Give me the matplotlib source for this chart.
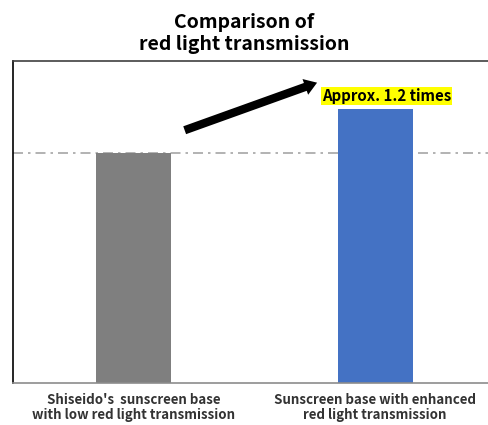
import numpy as np
import matplotlib
matplotlib.use("Agg")
import matplotlib.pyplot as plt

plt.rcParams['font.family'] = ['Noto Sans CJK JP', 'DejaVu Sans']

categories = ["Shiseido's  sunscreen base\nwith low red light transmission",
              "Sunscreen base with enhanced\nred light transmission"]
values = [1.0, 1.19]
colors = ["#7f7f7f", "#4472c4"]
note = "Approx. 1.2 times"

fig = plt.figure(figsize=(4.89, 4.25), dpi=100)
ax = fig.add_axes([0.0266, 0.0988, 0.9877, 0.7576])

x = np.arange(len(values))
ax.bar(x, values, width=0.31, color=colors, zorder=2)
ax.axhline(values[0], color="#a6a6a6", lw=1.2, ls=(0, (6, 3, 1.5, 3)), zorder=1)

ax.set_xlim(-0.5, 1.5)
ax.set_ylim(0, 1.40)
ax.set_yticks([])
ax.set_xticks(x)
ax.set_xticklabels(categories, fontsize=9.6, fontweight="bold", color="#333333",
                   linespacing=1.15)
ax.tick_params(axis="x", length=0, pad=7)

ax.spines["left"].set_color("black")
ax.spines["left"].set_linewidth(1.2)
ax.spines["top"].set_color("#404040")
ax.spines["top"].set_linewidth(1.2)
ax.spines["bottom"].set_color("#8c8c8c")
ax.spines["bottom"].set_linewidth(1.2)
ax.spines["right"].set_visible(False)

ax.annotate("", xy=(0.77, 1.31), xytext=(0.20, 1.095),
            arrowprops=dict(arrowstyle="simple,head_width=1.2,head_length=0.9,tail_width=0.6",
                            color="black", lw=0))
ax.text(1.048, 1.248, note, ha="center", va="center", fontsize=10.8, fontweight="bold",
        bbox=dict(facecolor="#ffff00", edgecolor="none", pad=0.5))

fig.text(0.5, 0.92, "Comparison of\nred light transmission", ha="center", va="center",
         fontsize=14, fontweight="bold", linespacing=1.2)

fig.savefig("out.png", dpi=100)
